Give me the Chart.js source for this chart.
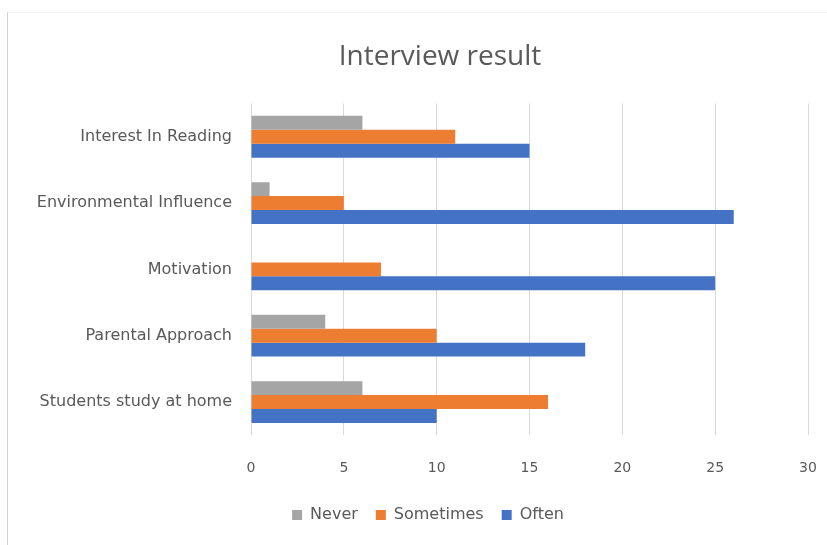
<!DOCTYPE html>
<html lang="en">
<head>
    <meta charset="UTF-8">
    <title>Interview result</title>
    <style>
        html, body { margin: 0; padding: 0; background: #fff; overflow: hidden; }
        .frame {
            position: absolute; left: 7px; top: 12px; width: 830px; height: 540px;
            border-left: 1.5px solid #d0d0d0; border-top: 1px solid #f0f0f0;
        }
        .wrap { position: absolute; left: 0; top: 0; width: 880px; height: 545px; }
    </style>
</head>
<body>
    <div class="frame"></div>
    <div class="wrap">
        <canvas id="interviewChart" width="880" height="545"></canvas>
    </div>

    <script src="https://cdn.jsdelivr.net/npm/chart.js@4.4.4/dist/chart.umd.min.js"></script>
    <script>
        const categories = ['Interest In Reading', 'Environmental Influence', 'Motivation', 'Parental Approach', 'Students study at home'];
        const never = [6, 1, 0, 4, 6];
        const sometimes = [11, 5, 7, 10, 16];
        const often = [15, 26, 25, 18, 10];
        const xTicks = [0, 5, 10, 15, 20, 25, 30];

        const textColor = '#595959';
        const labelFont = "'DejaVu Sans', sans-serif";
        const titleFont = "'Open Sans', 'Noto Sans', sans-serif";

        // title and legend are centred on the whole chart box, not on the plot
        const recentre = {
            id: 'recentre',
            afterLayout(chart) {
                chart.titleBlock.left = 0;
                chart.titleBlock.right = 880;
                chart.legend.left = 0;
                chart.legend.right = 856;
                chart.legend.top -= 5;
            }
        };

        const ctx = document.getElementById('interviewChart').getContext('2d');
        new Chart(ctx, {
            type: 'bar',
            data: {
                labels: categories,
                datasets: [
                    { label: 'Never', data: never, backgroundColor: '#A5A5A5' },
                    { label: 'Sometimes', data: sometimes, backgroundColor: '#ED7D31' },
                    { label: 'Often', data: often, backgroundColor: '#4472C4' }
                ]
            },
            plugins: [recentre],
            options: {
                indexAxis: 'y',
                responsive: false,
                animation: false,
                categoryPercentage: 0.63,
                barPercentage: 1.0,
                layout: { padding: { left: 0, right: 72, top: 40, bottom: 7 } },
                scales: {
                    x: {
                        min: 0,
                        max: 30,
                        afterBuildTicks: (scale) => { scale.ticks = xTicks.map(v => ({ value: v })); },
                        afterFit: (scale) => { scale.height = scale.height - 8; },
                        grid: { color: '#d9d9d9', drawTicks: false },
                        border: { display: false },
                        ticks: { color: textColor, padding: 25, font: { family: labelFont, size: 14 } }
                    },
                    y: {
                        afterFit: (scale) => { scale.width = 251; },
                        grid: { display: false },
                        border: { display: false },
                        ticks: { color: textColor, padding: 11, font: { family: labelFont, size: 16 } }
                    }
                },
                plugins: {
                    title: {
                        display: true,
                        text: 'Interview result',
                        color: textColor,
                        font: { family: titleFont, size: 28, weight: 'normal' },
                        padding: { top: 0, bottom: 30 }
                    },
                    legend: {
                        position: 'bottom',
                        labels: {
                            color: textColor,
                            boxWidth: 10,
                            boxHeight: 10,
                            padding: 18,
                            font: { family: labelFont, size: 16 }
                        }
                    },
                    tooltip: { enabled: false }
                }
            }
        });
    </script>
</body>
</html>
